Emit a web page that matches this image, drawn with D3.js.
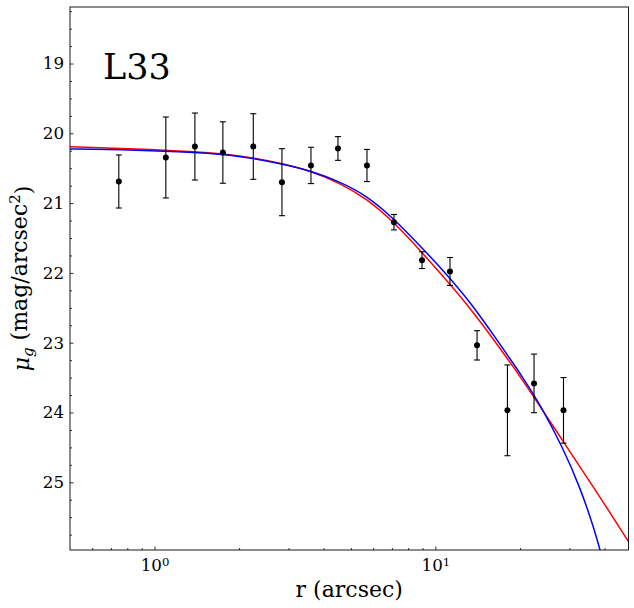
<!DOCTYPE html>
<html>
<head>
<meta charset="utf-8">
<script src="https://cdn.jsdelivr.net/npm/d3@7"></script>
<style>
body { margin: 0; background: #fff; }
svg text { font-family: "DejaVu Serif", serif; fill: #000; }
</style>
</head>
<body>
<svg id="chart" width="634" height="608"></svg>
<script>
// measured profile (radius in arcsec, surface brightness in mag/arcsec^2)
var radius = [0.746, 1.097, 1.392, 1.751, 2.247, 2.842, 3.605, 4.498, 5.706, 7.12, 8.96, 11.27, 14.07, 18.05, 22.45, 28.58];
var mu     = [20.69, 20.346, 20.189, 20.275, 20.189, 20.70, 20.46, 20.217, 20.461, 21.273, 21.817, 21.979, 23.038, 23.969, 23.583, 23.969];
var muErr  = [0.38, 0.58, 0.48, 0.44, 0.47, 0.48, 0.26, 0.17, 0.23, 0.11, 0.12, 0.20, 0.21, 0.65, 0.42, 0.47];

// fitted models
var redR  = [0.5, 0.75, 1.228, 1.85, 2.788, 3.595, 4.561, 5.692, 7.103, 8.937, 10.36, 12.90, 15.83, 20.51, 28.49, 37.47, 48.7];
var redMu = [20.194, 20.213, 20.252, 20.292, 20.418, 20.538, 20.711, 20.936, 21.268, 21.702, 21.996, 22.437, 22.912, 23.535, 24.416, 25.132, 25.851];
var blueR  = [0.5, 0.75, 1.228, 1.85, 2.788, 3.595, 4.561, 5.692, 7.103, 8.937, 10.64, 13.44, 16.27, 20.80, 23.53, 28.49, 32.67, 36.43, 39.45];
var blueMu = [20.223, 20.234, 20.26, 20.299, 20.428, 20.535, 20.693, 20.893, 21.22, 21.638, 21.96, 22.437, 22.915, 23.535, 23.879, 24.509, 25.068, 25.612, 26.113];

var yTicks = [19, 20, 21, 22, 23, 24, 25];
var xTicks = [1, 10];
var xTickExp = ["0", "1"];
var panelName = "L33";

var pLeft = 70, pRight = 628.5, pTop = 7, pBottom = 550;
var svg = d3.select("#chart");

var x = d3.scaleLog().domain([0.5, 48.7]).range([pLeft, pRight]);
var y = d3.scaleLinear().domain([18.19, 25.97]).range([pTop, pBottom]);

svg.append("defs").append("clipPath").attr("id", "plotclip")
	.append("rect").attr("x", pLeft).attr("y", pTop).attr("width", pRight - pLeft).attr("height", pBottom - pTop);

// minor ticks
var xMinor = [0.6, 0.7, 0.8, 0.9].concat(d3.range(2, 10), [20, 30, 40]);
var yMinor = d3.range(18.25, 26, 0.25).filter(function(v) { return Math.abs(v - Math.round(v)) > 0.01; });

svg.append("g").attr("transform", "translate(0," + pBottom + ")")
	.call(d3.axisBottom(x).tickValues(xMinor).tickSize(-2).tickFormat(""))
	.call(function(g) { g.select(".domain").remove(); g.selectAll("line").attr("stroke-width", 0.8); });
svg.append("g").attr("transform", "translate(" + pLeft + ",0)")
	.call(d3.axisLeft(y).tickValues(yMinor).tickSize(-2).tickFormat(""))
	.call(function(g) { g.select(".domain").remove(); g.selectAll("line").attr("stroke-width", 0.8); });

// major ticks
var xAxis = svg.append("g").attr("transform", "translate(0," + pBottom + ")")
	.call(d3.axisBottom(x).tickValues(xTicks).tickSize(-3.5).tickPadding(9).tickFormat(function() { return ""; }));
xAxis.select(".domain").remove();
xAxis.attr("font-size", 16.7).attr("font-family", "DejaVu Serif");
xAxis.selectAll("line").attr("stroke-width", 0.8);
xAxis.selectAll("text").each(function(d, i) {
	var t = d3.select(this);
	t.append("tspan").text("10");
	t.append("tspan").attr("dy", "-0.45em").attr("font-size", 11.7).text(xTickExp[i]);
});

var yAxis = svg.append("g").attr("transform", "translate(" + pLeft + ",0)")
	.call(d3.axisLeft(y).tickValues(yTicks).tickSize(-3.5).tickPadding(6).tickFormat(d3.format("d")));
yAxis.select(".domain").remove();
yAxis.attr("font-size", 16.7).attr("font-family", "DejaVu Serif");
yAxis.selectAll("line").attr("stroke-width", 0.8);

// model curves
var line = d3.line().x(function(d) { return x(d[0]); }).y(function(d) { return y(d[1]); }).curve(d3.curveBasis);
var curves = svg.append("g").attr("clip-path", "url(#plotclip)").attr("fill", "none").attr("stroke-width", 1.5);
curves.append("path").attr("stroke", "#ff0000").attr("d", line(d3.zip(redR, redMu)));
curves.append("path").attr("stroke", "#0000ff").attr("d", line(d3.zip(blueR, blueMu)));

// data with error bars
var pts = svg.append("g").attr("stroke", "#000").attr("stroke-width", 1.1);
radius.forEach(function(r, i) {
	var cx = x(r), y1 = y(mu[i] - muErr[i]), y2 = y(mu[i] + muErr[i]);
	pts.append("line").attr("x1", cx).attr("x2", cx).attr("y1", y1).attr("y2", y2);
	pts.append("line").attr("x1", cx - 3).attr("x2", cx + 3).attr("y1", y1).attr("y2", y1);
	pts.append("line").attr("x1", cx - 3).attr("x2", cx + 3).attr("y1", y2).attr("y2", y2);
	pts.append("circle").attr("cx", cx).attr("cy", y(mu[i])).attr("r", 3).attr("fill", "#000").attr("stroke", "none");
});

// frame
svg.append("rect").attr("x", pLeft).attr("y", pTop).attr("width", pRight - pLeft).attr("height", pBottom - pTop)
	.attr("fill", "none").attr("stroke", "#000").attr("stroke-width", 0.9);

// labels
svg.append("text").attr("x", 103).attr("y", 79).attr("font-size", 35).text(panelName);

svg.append("text").attr("x", (pLeft + pRight) / 2).attr("y", 597).attr("text-anchor", "middle")
	.attr("font-size", 22).text("r (arcsec)");

var yl = svg.append("text").attr("transform", "translate(29," + (pTop + pBottom) / 2 + ") rotate(-90)")
	.attr("text-anchor", "middle").attr("font-size", 22);
yl.append("tspan").attr("font-style", "italic").text("μ");
yl.append("tspan").attr("font-style", "italic").attr("font-size", 15).attr("dy", "0.25em").text("g");
yl.append("tspan").attr("dy", "-0.25em").text(" (mag/arcsec");
yl.append("tspan").attr("font-size", 15).attr("dy", "-0.5em").text("2");
yl.append("tspan").attr("dy", "0.5em").text(")");
</script>
</body>
</html>
